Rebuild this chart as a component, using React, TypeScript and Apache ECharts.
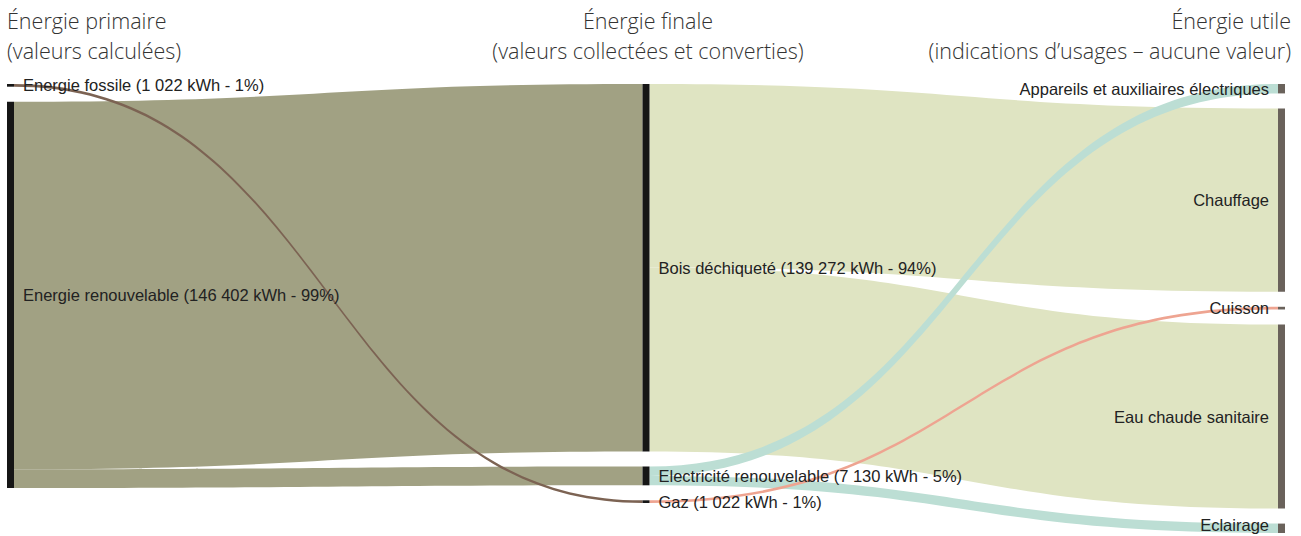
import React, { useEffect, useRef } from "react";
import * as echarts from "echarts";

// Column headers
const columnTitles = ["Énergie primaire", "Énergie finale", "Énergie utile"];
const columnSubtitles = [
  "(valeurs calculées)",
  "(valeurs collectées et converties)",
  "(indications d’usages – aucune valeur)",
];

// Nodes per column
const primaryNodes = ["Energie fossile", "Energie renouvelable"];
const finalNodes = ["Bois déchiqueté", "Electricité renouvelable", "Gaz"];
const usefulNodes = [
  "Appareils et auxiliaires électriques",
  "Chauffage",
  "Cuisson",
  "Eau chaude sanitaire",
  "Eclairage",
];

// Flows (kWh)
const linkSources = [
  "Energie renouvelable",
  "Energie renouvelable",
  "Energie fossile",
  "Bois déchiqueté",
  "Bois déchiqueté",
  "Electricité renouvelable",
  "Electricité renouvelable",
  "Gaz",
];
const linkTargets = [
  "Bois déchiqueté",
  "Electricité renouvelable",
  "Gaz",
  "Chauffage",
  "Eau chaude sanitaire",
  "Appareils et auxiliaires électriques",
  "Eclairage",
  "Cuisson",
];
const linkValues = [139272, 7130, 1022, 69500, 69772, 3565, 3565, 1022];
const linkColors = [
  "#a1a183",
  "#a1a183",
  "#7c6353",
  "#dfe4c2",
  "#dfe4c2",
  "#bcded4",
  "#bcded4",
  "#eea491",
];

const fmt = (v: number) =>
  String(Math.round(v)).replace(/\B(?=(\d{3})+(?!\d))/g, " ");

export default function App() {
  const ref = useRef<HTMLDivElement>(null);

  useEffect(() => {
    if (!ref.current) return;
    const chart = echarts.init(ref.current, undefined, { renderer: "svg" });

    const nodeValue: Record<string, number> = {};
    linkSources.forEach((s, i) => {
      nodeValue[s] = (nodeValue[s] || 0) + linkValues[i];
    });
    const inValue: Record<string, number> = {};
    linkTargets.forEach((t, i) => {
      inValue[t] = (inValue[t] || 0) + linkValues[i];
    });
    const total = primaryNodes.reduce((a, n) => a + (nodeValue[n] || 0), 0);
    const valued = (n: string) => {
      const v = Math.max(nodeValue[n] || 0, inValue[n] || 0);
      return `${n} (${fmt(v)} kWh - ${Math.round((v / total) * 100)}%)`;
    };

    const labelBase = {
      fontFamily: "Liberation Sans, Arial, sans-serif",
      fontSize: 16.5,
      color: "#222222",
      distance: 9,
    };

    const lastUseful = usefulNodes[usefulNodes.length - 1];

    const data = [
      ...primaryNodes.map((n) => ({
        name: n,
        itemStyle: { color: "#161616", borderWidth: 0 },
        label: { ...labelBase, position: "right", formatter: valued(n) },
      })),
      ...finalNodes.map((n) => ({
        name: n,
        itemStyle: { color: "#161616", borderWidth: 0 },
        label: { ...labelBase, position: "right", formatter: valued(n) },
      })),
      ...usefulNodes.map((n) => ({
        name: n,
        itemStyle: { color: "#6a625b", borderWidth: 0 },
        label: {
          ...labelBase,
          position: "left",
          formatter: n,
          offset: n === lastUseful ? [0, -3] : [0, 0],
        },
      })),
    ];

    const links = linkSources.map((s, i) => ({
      source: s,
      target: linkTargets[i],
      value: linkValues[i],
      lineStyle: { color: linkColors[i], opacity: 1 },
    }));

    const headerStyle = {
      fontFamily: "Open Sans, Noto Sans, sans-serif",
      fontWeight: 300,
      fontSize: 21.5,
      lineHeight: 30,
      fill: "#333333",
    };

    chart.setOption({
      animation: false,
      backgroundColor: "#ffffff",
      graphic: [
        {
          type: "text",
          left: 7,
          top: 5,
          style: { ...headerStyle, text: columnTitles[0] + "\n" + columnSubtitles[0], textAlign: "left" },
        },
        {
          type: "text",
          x: 648,
          y: 5,
          style: { ...headerStyle, text: columnTitles[1] + "\n" + columnSubtitles[1], textAlign: "center" },
        },
        {
          type: "text",
          right: 10,
          top: 5,
          style: { ...headerStyle, text: columnTitles[2] + "\n" + columnSubtitles[2], textAlign: "right" },
        },
      ],
      series: [
        {
          type: "sankey",
          left: 7,
          right: 16,
          top: 84,
          bottom: 3,
          nodeWidth: 7,
          nodeGap: 15,
          layoutIterations: 0,
          nodeAlign: "justify",
          draggable: false,
          emphasis: { disabled: true },
          data,
          links,
          lineStyle: { curveness: 0.5, opacity: 1 },
          label: labelBase,
        },
      ],
    });

    return () => chart.dispose();
  }, []);

  return (
    <div
      ref={ref}
      style={{ position: "absolute", left: 0, top: 0, width: 1301, height: 536 }}
    />
  );
}
